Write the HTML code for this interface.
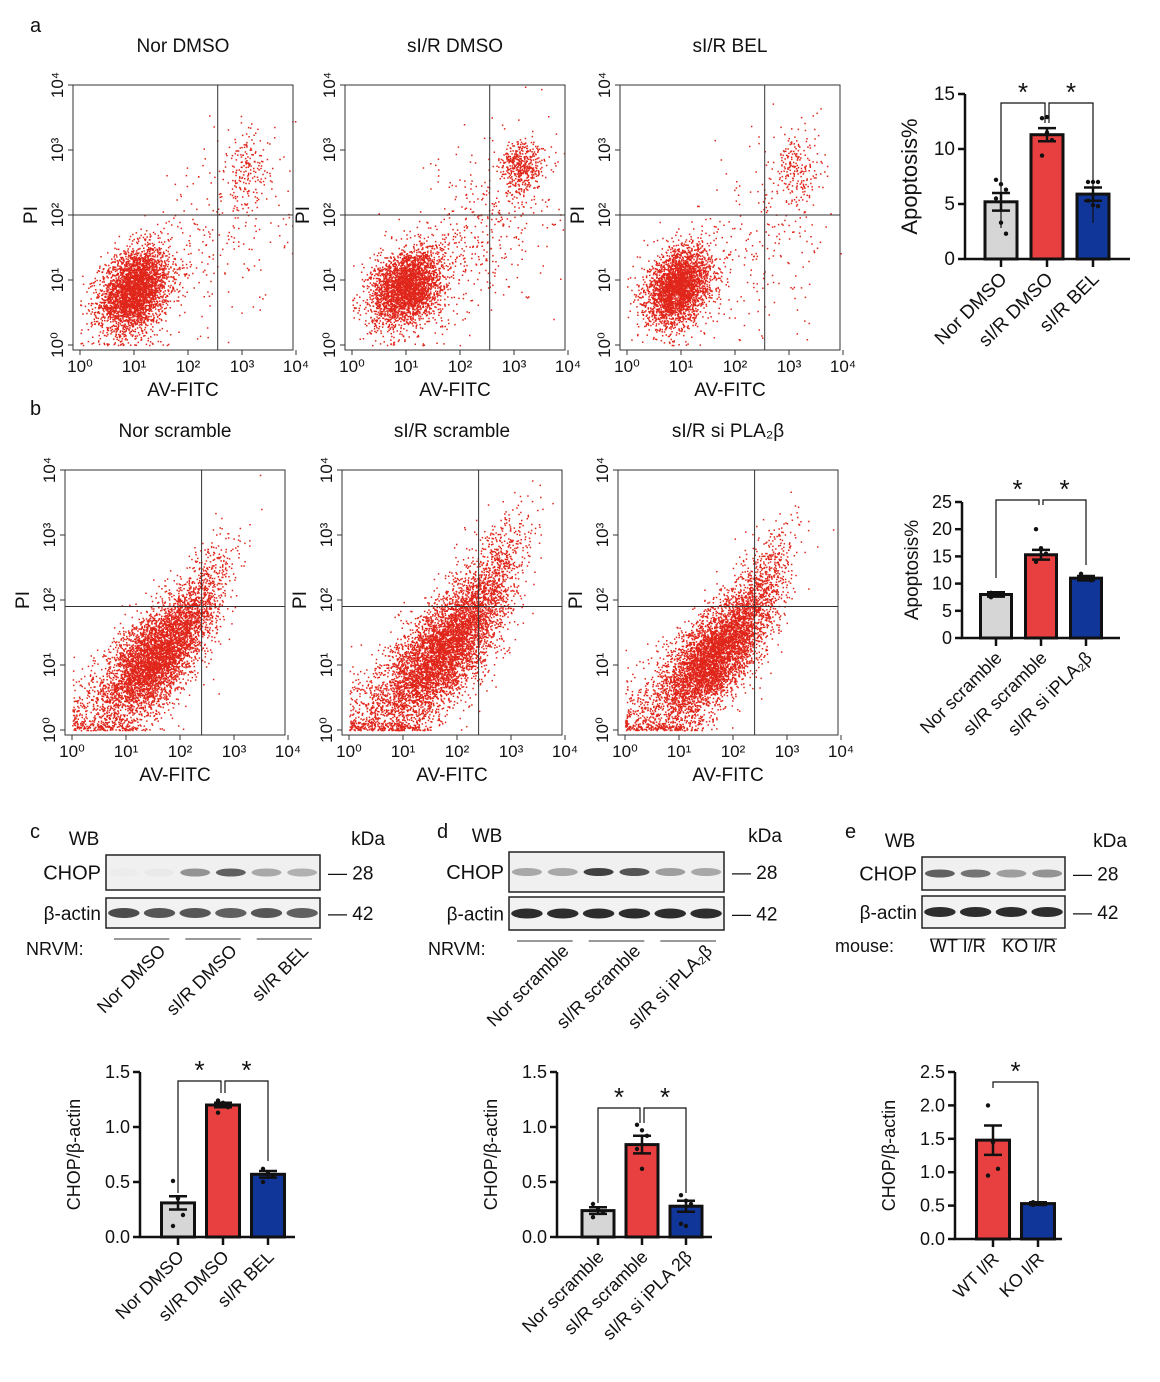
<!DOCTYPE html>
<html><head><meta charset="utf-8">
<style>
html,body{margin:0;padding:0;background:#fff;}
svg{display:block;font-family:"Liberation Sans",Arial,sans-serif;}
</style></head>
<body>
<svg id="fig" width="1160" height="1382" viewBox="0 0 1160 1382">
</svg>
<script>
// ---------- bar chart data ----------
const catsA = ["Nor DMSO","sI/R DMSO","sI/R BEL"];
const valsA = [5.2, 11.3, 5.9];
const errsA = [0.8, 0.6, 0.6];
const dotsA = [[7.2,6.8,6.3,5.5,3.3,2.3],[12.8,12.9,10.8,9.4,11.5],[7.0,7.0,7.0,5.3,4.9,4.8]];
const ticksA = [0,5,10,15];

const catsB = ["Nor scramble","sI/R scramble","sI/R si iPLA\u2082\u03b2"];
const valsB = [8.0, 15.3, 11.0];
const errsB = [0.4, 0.9, 0.4];
const dotsB = [[8.3,8.0,7.8,7.5],[20.0,16.5,15.5,14.0],[11.8,11.2,10.6,10.9]];
const ticksB = [0,5,10,15,20,25];

const catsC = ["Nor DMSO","sI/R DMSO","sI/R BEL"];
const valsC = [0.31, 1.2, 0.57];
const errsC = [0.06, 0.02, 0.03];
const dotsC = [[0.51,0.35,0.20,0.10],[1.24,1.22,1.18,1.13],[0.62,0.58,0.55,0.50]];
const ticksC = [0,0.5,1.0,1.5];

const catsD = ["Nor scramble","sI/R scramble","sI/R si iPLA 2\u03b2"];
const valsD = [0.24, 0.84, 0.28];
const errsD = [0.03, 0.08, 0.05];
const dotsD = [[0.30,0.25,0.22,0.18],[1.02,0.97,0.92,0.80,0.62],[0.38,0.33,0.30,0.12,0.10]];
const ticksD = [0,0.5,1.0,1.5];

const catsE = ["WT I/R","KO I/R"];
const valsE = [1.48, 0.53];
const errsE = [0.22, 0.02];
const dotsE = [[2.0,1.45,1.05,0.95],[0.55,0.54,0.52,0.51]];
const ticksE = [0,0.5,1.0,1.5,2.0,2.5];

const NS="http://www.w3.org/2000/svg";
const svg=document.getElementById('fig');
function mk(tag,attrs,parent,txt){const e=document.createElementNS(NS,tag);for(const k in attrs)e.setAttribute(k,attrs[k]);if(txt!==undefined)e.textContent=txt;(parent||svg).appendChild(e);return e;}
function grp(name){const g=mk('g',{});return g;}
function txt(g,x,y,s,size,anchor,name,rot){const t=mk('text',{x:x,y:y,'font-size':size,'text-anchor':anchor||'middle',fill:'#111'},g,s);
 if(rot!==undefined)t.setAttribute('transform','rotate('+rot+' '+x+' '+y+')');
 return t;}

[['a',30,32],['b',30,415],['c',30,838],['d',437,838],['e',845,838]].forEach(p=>{txt(svg,p[1],p[2],p[0],20,'start','panel-label-'+p[0]);});

let seed=12345;function rnd(){seed=(seed*1664525+1013904223)%4294967296;return seed/4294967296;}
function gauss(){let u=rnd()||1e-9,v=rnd();return Math.sqrt(-2*Math.log(u))*Math.cos(2*Math.PI*v);}
const SUP=['\u2070','\u00b9','\u00b2','\u00b3','\u2074'];

function flowPlot(name,title,left,top,gx,gy,clusters){
 const g=grp(name);
 const W=220,H=265,bottom=top+H;
 const X=d=>left+7+d*54, Y=d=>bottom-5-d*65;
 txt(g,left+110,top-33,title,19,'middle',name+'-title');
 let path='';
 clusters.forEach(c=>{for(let i=0;i<c.n;i++){let a=gauss(),b=gauss();let dx=c.cx+a*c.sx, dy=c.cy+(c.r*a+Math.sqrt(1-c.r*c.r)*b)*c.sy;
  if(dx<0)dx=Math.abs(dx)*0.3; if(dy<0)dy=Math.abs(dy)*0.3; if(dx>4||dy>4)continue;
  path+='M'+X(dx).toFixed(1)+' '+Y(dy).toFixed(1)+'h1.5v1.5h-1.5z';}});
 const p=mk('path',{d:path,fill:'#e0261b'},g);
 const box=mk('rect',{x:left,y:top,width:W,height:H,fill:'none',stroke:'#333','stroke-width':1},g);
 
 const gl=mk('line',{x1:left,x2:left+W,y1:Y(gy),y2:Y(gy),stroke:'#333','stroke-width':1},g);
 const gv=mk('line',{x1:X(gx),x2:X(gx),y1:top,y2:bottom,stroke:'#333','stroke-width':1},g);
 for(let d=0;d<=4;d++){
  const t=mk('line',{x1:X(d),x2:X(d),y1:bottom,y2:bottom+5,stroke:'#333'},g);
  txt(g,X(d),bottom+22,'10'+SUP[d],17,'middle','x-tick-label');
  const yt=mk('line',{x1:left-5,x2:left,y1:Y(d),y2:Y(d),stroke:'#333'},g);
  txt(g,left-10,Y(d),'10'+SUP[d],17,'middle','y-tick-label',-90);
 }
 txt(g,left+110,bottom+46,'AV-FITC',19,'middle',name+'-x-title');
 txt(g,left-36,top+130,'PI',19,'middle',name+'-y-title',-90);
}
const topA=85, topB=470;
flowPlot('flow-nor-dmso','Nor DMSO',73,topA,2.55,2.0,[{n:3500,cx:1.0,cy:0.85,sx:0.32,sy:0.32,r:0.3},{n:250,cx:2.5,cy:1.6,sx:0.7,sy:0.8,r:0.4},{n:180,cx:3.1,cy:2.7,sx:0.2,sy:0.3,r:0}]);
flowPlot('flow-sir-dmso','sI/R DMSO',345,topA,2.55,2.0,[{n:3000,cx:1.0,cy:0.9,sx:0.33,sy:0.3,r:0.3},{n:450,cx:2.4,cy:1.8,sx:0.7,sy:0.8,r:0.5},{n:450,cx:3.15,cy:2.75,sx:0.2,sy:0.2,r:0}]);
flowPlot('flow-sir-bel','sI/R BEL',620,topA,2.55,2.0,[{n:3000,cx:0.95,cy:0.9,sx:0.3,sy:0.3,r:0.3},{n:250,cx:2.5,cy:1.6,sx:0.7,sy:0.8,r:0.4},{n:200,cx:3.1,cy:2.7,sx:0.2,sy:0.3,r:0}]);
flowPlot('flow-nor-scramble','Nor scramble',65,topB,2.4,1.9,[{n:4000,cx:1.5,cy:1.1,sx:0.45,sy:0.45,r:0.6},{n:900,cx:2.3,cy:1.9,sx:0.35,sy:0.5,r:0.7},{n:500,cx:0.6,cy:0.3,sx:0.5,sy:0.4,r:0.3}]);
flowPlot('flow-sir-scramble','sI/R scramble',342,topB,2.4,1.9,[{n:4000,cx:1.7,cy:1.2,sx:0.5,sy:0.5,r:0.6},{n:1200,cx:2.5,cy:2.1,sx:0.4,sy:0.6,r:0.7},{n:900,cx:0.8,cy:0.4,sx:0.5,sy:0.4,r:0.3}]);
flowPlot('flow-sir-sipla','sI/R si PLA\u2082\u03b2',618,topB,2.4,1.9,[{n:4000,cx:1.6,cy:1.1,sx:0.45,sy:0.45,r:0.6},{n:1100,cx:2.4,cy:2.0,sx:0.35,sy:0.55,r:0.7},{n:600,cx:0.7,cy:0.3,sx:0.5,sy:0.4,r:0.3}]);

const COLORS=['#d6d6d6','#e84040','#10369a'];
function barChart(name,cfg,cats,vals,errs,dots,ticks){
 const g=grp(name);
 const {ax,y0,y1,ymax,x0,step,bw,ytitle,xend,fs,sig}=cfg;
 const Y=v=>y0-(v/ymax)*(y0-y1);
 const Xc=i=>x0+i*step;
 vals.forEach((v,i)=>{
  const r=mk('rect',{x:Xc(i)-bw/2,y:Y(v),width:bw,height:y0-Y(v),fill:cfg.colors?cfg.colors[i]:COLORS[i],stroke:'#111','stroke-width':3},g);
  
  const e=mk('path',{d:'M'+Xc(i)+' '+Y(v-errs[i])+'V'+Y(v+errs[i])+'M'+(Xc(i)-9)+' '+Y(v+errs[i])+'h18M'+(Xc(i)-9)+' '+Y(v-errs[i])+'h18',stroke:'#111','stroke-width':2.5,fill:'none'},g);
  
  dots[i].forEach((d,j)=>{const c=mk('circle',{cx:Xc(i)+((j%3)-1)*5,cy:Y(d),r:2.2,fill:'#111'},g);});
  const tk=mk('line',{x1:Xc(i),x2:Xc(i),y1:y0,y2:y0+8,stroke:'#111','stroke-width':2.5},g);
  txt(g,Xc(i)+7,y0+21,cats[i],fs,'end','x-tick-label',-45);
 });
 const axis=mk('path',{d:'M'+ax+' '+Y(ymax)+'V'+y0+'H'+xend,stroke:'#111','stroke-width':2.5,fill:'none'},g);
 
 ticks.forEach(t=>{const l=mk('line',{x1:ax-7,x2:ax,y1:Y(t),y2:Y(t),stroke:'#111','stroke-width':2.5},g);
  txt(g,ax-10,Y(t)+6,cfg.dec?t.toFixed(1):String(t),fs,'end','y-tick-label');});
 txt(g,ax-cfg.tOff,(y0+Y(ymax))/2,ytitle,cfg.tfs,'middle','y-axis-title',-90);
 sig.forEach(s=>{const a=Xc(s[0]),b=Xc(s[1]);const yb=s[2];
  const p=mk('path',{d:'M'+(a+s[3])+' '+(yb+s[4])+'V'+yb+'H'+(b-s[5])+'V'+(yb+s[6]),stroke:'#111','stroke-width':1.2,fill:'none'},g);
  
  txt(g,(a+s[3]+b-s[5])/2,yb-2,'*',26,'middle','significance-star');});
}
barChart('apoptosis-chart-a',{ax:965,y0:259,y1:94,ymax:15,x0:1001,step:46,bw:32,ytitle:'Apoptosis%',xend:1130,fs:19,tfs:22,tOff:48,
 sig:[[0,1,103,0,125,2,20],[1,2,103,2,20,0,120]]},catsA,valsA,errsA,dotsA,ticksA);
barChart('apoptosis-chart-b',{ax:962,y0:638,y1:502,ymax:25,x0:996,step:45,bw:31,ytitle:'Apoptosis%',xend:1120,fs:18,tfs:19,tOff:44,
 sig:[[0,1,500,0,78,2,5],[1,2,500,2,5,0,65]]},catsB,valsB,errsB,dotsB,ticksB);
barChart('chop-chart-c',{ax:140,y0:1237,y1:1072,ymax:1.5,x0:178,step:45,bw:33,ytitle:'CHOP/\u03b2-actin',xend:295,fs:18,tfs:18,tOff:60,dec:true,
 sig:[[0,1,1081,0,112,2,12],[1,2,1081,2,12,0,80]]},catsC,valsC,errsC,dotsC,ticksC);
barChart('chop-chart-d',{ax:557,y0:1237,y1:1072,ymax:1.5,x0:598,step:44,bw:32,ytitle:'CHOP/\u03b2-actin',xend:712,fs:18,tfs:18,tOff:60,dec:true,
 sig:[[0,1,1108,0,95,2,15],[1,2,1108,2,15,0,85]]},catsD,valsD,errsD,dotsD,ticksD);
barChart('chop-chart-e',{ax:955,y0:1239,y1:1072,ymax:2.5,x0:993,step:45,bw:33,ytitle:'CHOP/\u03b2-actin',xend:1062,fs:18,tfs:18,tOff:60,dec:true,
 sig:[[0,1,1082,0,6,0,120]],colors:['#e84040','#10369a']},catsE,valsE,errsE,dotsE,ticksE);

function blot(name,cfg){
 const g=grp(name);
 const {bx,bw,cy,ch,ay,ah,lanes,chop,actin,lblx,kx,groups,glabels,prefix,gy,rot}=cfg;
 txt(g,bx-22,cy-10,'WB',19,'middle','wb-label');
 txt(g,kx+20,cy-10,'kDa',19,'middle','kda-label');
 txt(g,bx-5,cy+ch/2+7,'CHOP',20,'end','chop-label');
 txt(g,bx-5,ay+ah/2+7,'\u03b2-actin',19,'end','actin-label');
 [[cy,ch,'#f0f0f0'],[ay,ah,'#f2f2f2']].forEach((b,k)=>{
  const r=mk('rect',{x:bx,y:b[0],width:bw,height:b[1],fill:b[2],stroke:'#222','stroke-width':1.5},g);
  });
 const lw=bw/lanes;
 chop.forEach((o,i)=>{const e=mk('ellipse',{cx:bx+lw*(i+0.5),cy:cy+ch/2,rx:lw*0.42,ry:4,fill:'#222',opacity:o},g);});
 actin.forEach((o,i)=>{const e=mk('ellipse',{cx:bx+lw*(i+0.5),cy:ay+ah/2,rx:lw*0.44,ry:5,fill:'#222',opacity:o},g);});
 txt(g,bx+bw+8,cy+ch/2+7,'\u2014 28',19,'start','mw-28');
 txt(g,bx+bw+8,ay+ah/2+7,'\u2014 42',19,'start','mw-42');
 txt(g,lblx,gy+7,prefix,18,'start','sample-prefix');
 const gw=bw/groups;
 glabels.forEach((s,i)=>{const l=mk('line',{x1:bx+gw*i+8,x2:bx+gw*(i+1)-8,y1:ay+ah+11,y2:ay+ah+11,stroke:'#333','stroke-width':1},g);
  if(rot) txt(g,bx+gw*(i+0.5)+25,gy+4,s,18,'end','group-label',-45); else txt(g,bx+gw*(i+0.5),gy+7,s,18,'middle','group-label');});
}
blot('western-blot-c',{bx:106,bw:214,cy:855,ch:35,ay:898,ah:30,lanes:6,chop:[0.02,0.03,0.45,0.7,0.35,0.3],actin:[0.8,0.75,0.75,0.7,0.75,0.7],lblx:26,kx:348,groups:3,glabels:catsC,prefix:'NRVM:',gy:948,rot:true});
blot('western-blot-d',{bx:509,bw:215,cy:852,ch:40,ay:897,ah:33,lanes:6,chop:[0.35,0.35,0.85,0.75,0.4,0.35],actin:[0.95,0.95,0.95,0.95,0.95,0.95],lblx:428,kx:745,groups:3,glabels:catsB,prefix:'NRVM:',gy:948,rot:true});
blot('western-blot-e',{bx:922,bw:143,cy:857,ch:33,ay:896,ah:32,lanes:4,chop:[0.7,0.6,0.4,0.45],actin:[0.95,0.95,0.95,0.95],lblx:835,kx:1090,groups:2,glabels:catsE,prefix:'mouse:',gy:945,rot:false});
</script>
</body></html>
